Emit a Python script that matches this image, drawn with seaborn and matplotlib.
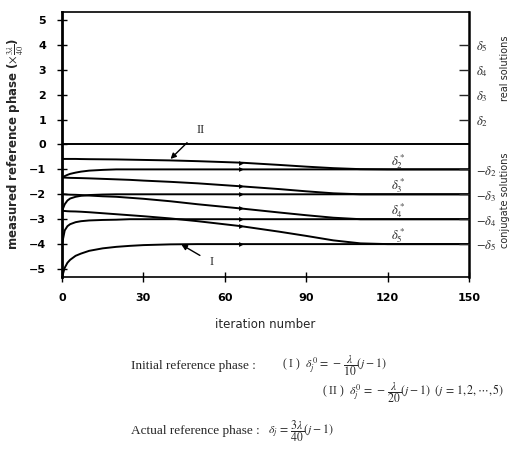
import numpy as np
import pandas as pd
import matplotlib
matplotlib.use('Agg')
import matplotlib.pyplot as plt
import seaborn as sns

# iteration grid
iters = [0, 1, 2, 3, 5, 7, 10, 15, 20, 25, 30, 40, 50, 66, 80, 90, 100, 110, 120, 150]

# curve family I (fast convergence)
I_j1 = [0.0] * 20
I_j2 = [-1.33, -1.27, -1.22, -1.18, -1.13, -1.09, -1.05, -1.02, -1.0, -1.0,
        -1.0, -1.0, -1.0, -1.0, -1.0, -1.0, -1.0, -1.0, -1.0, -1.0]
I_j3 = [-2.67, -2.4, -2.25, -2.17, -2.1, -2.06, -2.03, -2.01, -2.0, -2.0,
        -2.0, -2.0, -2.0, -2.0, -2.0, -2.0, -2.0, -2.0, -2.0, -2.0]
I_j4 = [-4.0, -3.45, -3.28, -3.2, -3.12, -3.08, -3.05, -3.03, -3.02, -3.0,
        -3.0, -3.0, -3.0, -3.0, -3.0, -3.0, -3.0, -3.0, -3.0, -3.0]
I_j5 = [-5.33, -4.95, -4.75, -4.63, -4.47, -4.38, -4.27, -4.17, -4.11, -4.07,
        -4.04, -4.01, -4.0, -4.0, -4.0, -4.0, -4.0, -4.0, -4.0, -4.0]

# curve family II (slow convergence)
II_j2 = [-0.58, -0.58, -0.58, -0.58, -0.58, -0.585, -0.59, -0.595, -0.6, -0.61,
         -0.62, -0.64, -0.67, -0.73, -0.82, -0.89, -0.95, -0.99, -1.0, -1.0]
II_j3 = [-1.33, -1.33, -1.335, -1.34, -1.345, -1.35, -1.36, -1.38, -1.4, -1.42,
         -1.45, -1.5, -1.56, -1.68, -1.79, -1.88, -1.96, -2.0, -2.0, -2.0]
II_j4 = [-2.0, -2.0, -2.01, -2.015, -2.02, -2.03, -2.05, -2.08, -2.1, -2.14,
         -2.18, -2.28, -2.4, -2.57, -2.73, -2.84, -2.94, -3.0, -3.0, -3.0]
II_j5 = [-2.67, -2.67, -2.68, -2.685, -2.69, -2.7, -2.72, -2.76, -2.8, -2.84,
         -2.88, -2.97, -3.08, -3.28, -3.5, -3.67, -3.85, -3.97, -4.0, -4.0]

real_ticks = [4, 3, 2, 1]
real_labels = [r'$\delta_5$', r'$\delta_4$', r'$\delta_3$', r'$\delta_2$']
conj_ticks = [-1, -2, -3, -4]
conj_labels = [r'$-\delta_2$', r'$-\delta_3$', r'$-\delta_4$', r'$-\delta_5$']
star_labels = [r'$\delta_2^*$', r'$\delta_3^*$', r'$\delta_4^*$', r'$\delta_5^*$']

sns.set_style('ticks')
plt.rcParams['font.family'] = ['DejaVu Sans']
plt.rcParams['mathtext.fontset'] = 'stix'

fig = plt.figure(figsize=(5.15, 4.54), dpi=100)
ax = fig.add_axes([0.1204, 0.3899, 0.7903, 0.5837])

curves = [I_j1, I_j2, I_j3, I_j4, I_j5, II_j2, II_j3, II_j4, II_j5]
for k, c in enumerate(curves):
    sns.lineplot(x=iters, y=c, ax=ax, color='black', lw=1.4,
                 marker='>' if k > 0 else None, markersize=3.5,
                 markevery=[13], markeredgewidth=0)

ax.set_xlim(0, 150)
ax.set_ylim(-5.32, 5.32)
ax.set_xticks([0, 30, 60, 90, 120, 150])
ax.set_yticks(range(-5, 6))
ax.set_yticklabels([str(v).replace('-', '\u2212') for v in range(-5, 6)])
ax.tick_params(axis='both', direction='inout', length=7, width=1,
               labelsize=8, colors='black')
ax.tick_params(axis='x', pad=8)
ax.tick_params(axis='y', pad=8)
for s in ax.spines.values():
    s.set_linewidth(1.2)
    s.set_color('black')
ax.spines['left'].set_linewidth(2)
ax.spines['right'].set_linewidth(1.8)
for lab in ax.get_xticklabels() + ax.get_yticklabels():
    lab.set_fontweight('bold')

ax.set_xlabel('iteration number', fontsize=8.5, labelpad=11)
ax.set_ylabel(r'measured reference phase ($\times\,\frac{3\lambda}{40}$)',
              fontsize=8.5, fontweight='bold')
ax.yaxis.set_label_coords(-0.088, 0.5)

# right axis: real / conjugate solutions
ax2 = ax.twinx()
ax2.set_ylim(ax.get_ylim())
ax2.set_yticks(real_ticks + conj_ticks)
ax2.set_yticklabels(real_labels + conj_labels)
ax2.tick_params(axis='y', direction='in', length=7, width=1, labelsize=9, pad=5)
for s in ax2.spines.values():
    s.set_visible(False)

for lab, v in zip(star_labels, conj_ticks):
    ax.text(124, v + 0.33, lab, fontsize=9, ha='center', va='center')

ax.annotate('II', xy=(40, -0.58), xytext=(51, 0.6), fontsize=9,
            family='Liberation Serif', ha='center', va='center',
            arrowprops=dict(arrowstyle='-|>', color='black', lw=1,
                            shrinkA=6, shrinkB=0, mutation_scale=8))
ax.annotate('I', xy=(44, -4.02), xytext=(55, -4.72), fontsize=9,
            family='Liberation Serif', ha='center', va='center',
            arrowprops=dict(arrowstyle='-|>', color='black', lw=1,
                            shrinkA=5, shrinkB=0, mutation_scale=8))

fig.text(0.981, 0.85, 'real solutions', rotation=90, fontsize=7,
         ha='center', va='center')
fig.text(0.981, 0.56, 'conjugate solutions', rotation=90, fontsize=7,
         ha='center', va='center')

prose = dict(family='Liberation Serif', fontsize=9.5, va='center')
maths = dict(family='Liberation Serif', fontsize=8.5, va='center')
fig.text(131 / 515, 1 - 366 / 454, 'Initial reference phase :', **prose)
fig.text(282 / 515, 1 - 366 / 454,
         r'( I )  $\delta_j^0\,=\,-\,\dfrac{\lambda}{10}(j-1)$', **maths)
fig.text(322 / 515, 1 - 393 / 454,
         r'( II )  $\delta_j^0\,=\,-\,\dfrac{\lambda}{20}(j-1)$  $(j\,=\,1,2,\cdots,5)$',
         **maths)
fig.text(131 / 515, 1 - 431 / 454, 'Actual reference phase :', **prose)
fig.text(268 / 515, 1 - 431 / 454,
         r'$\delta_j\,=\,\dfrac{3\lambda}{40}(j-1)$', **maths)

fig.savefig('out.png', dpi=100)
